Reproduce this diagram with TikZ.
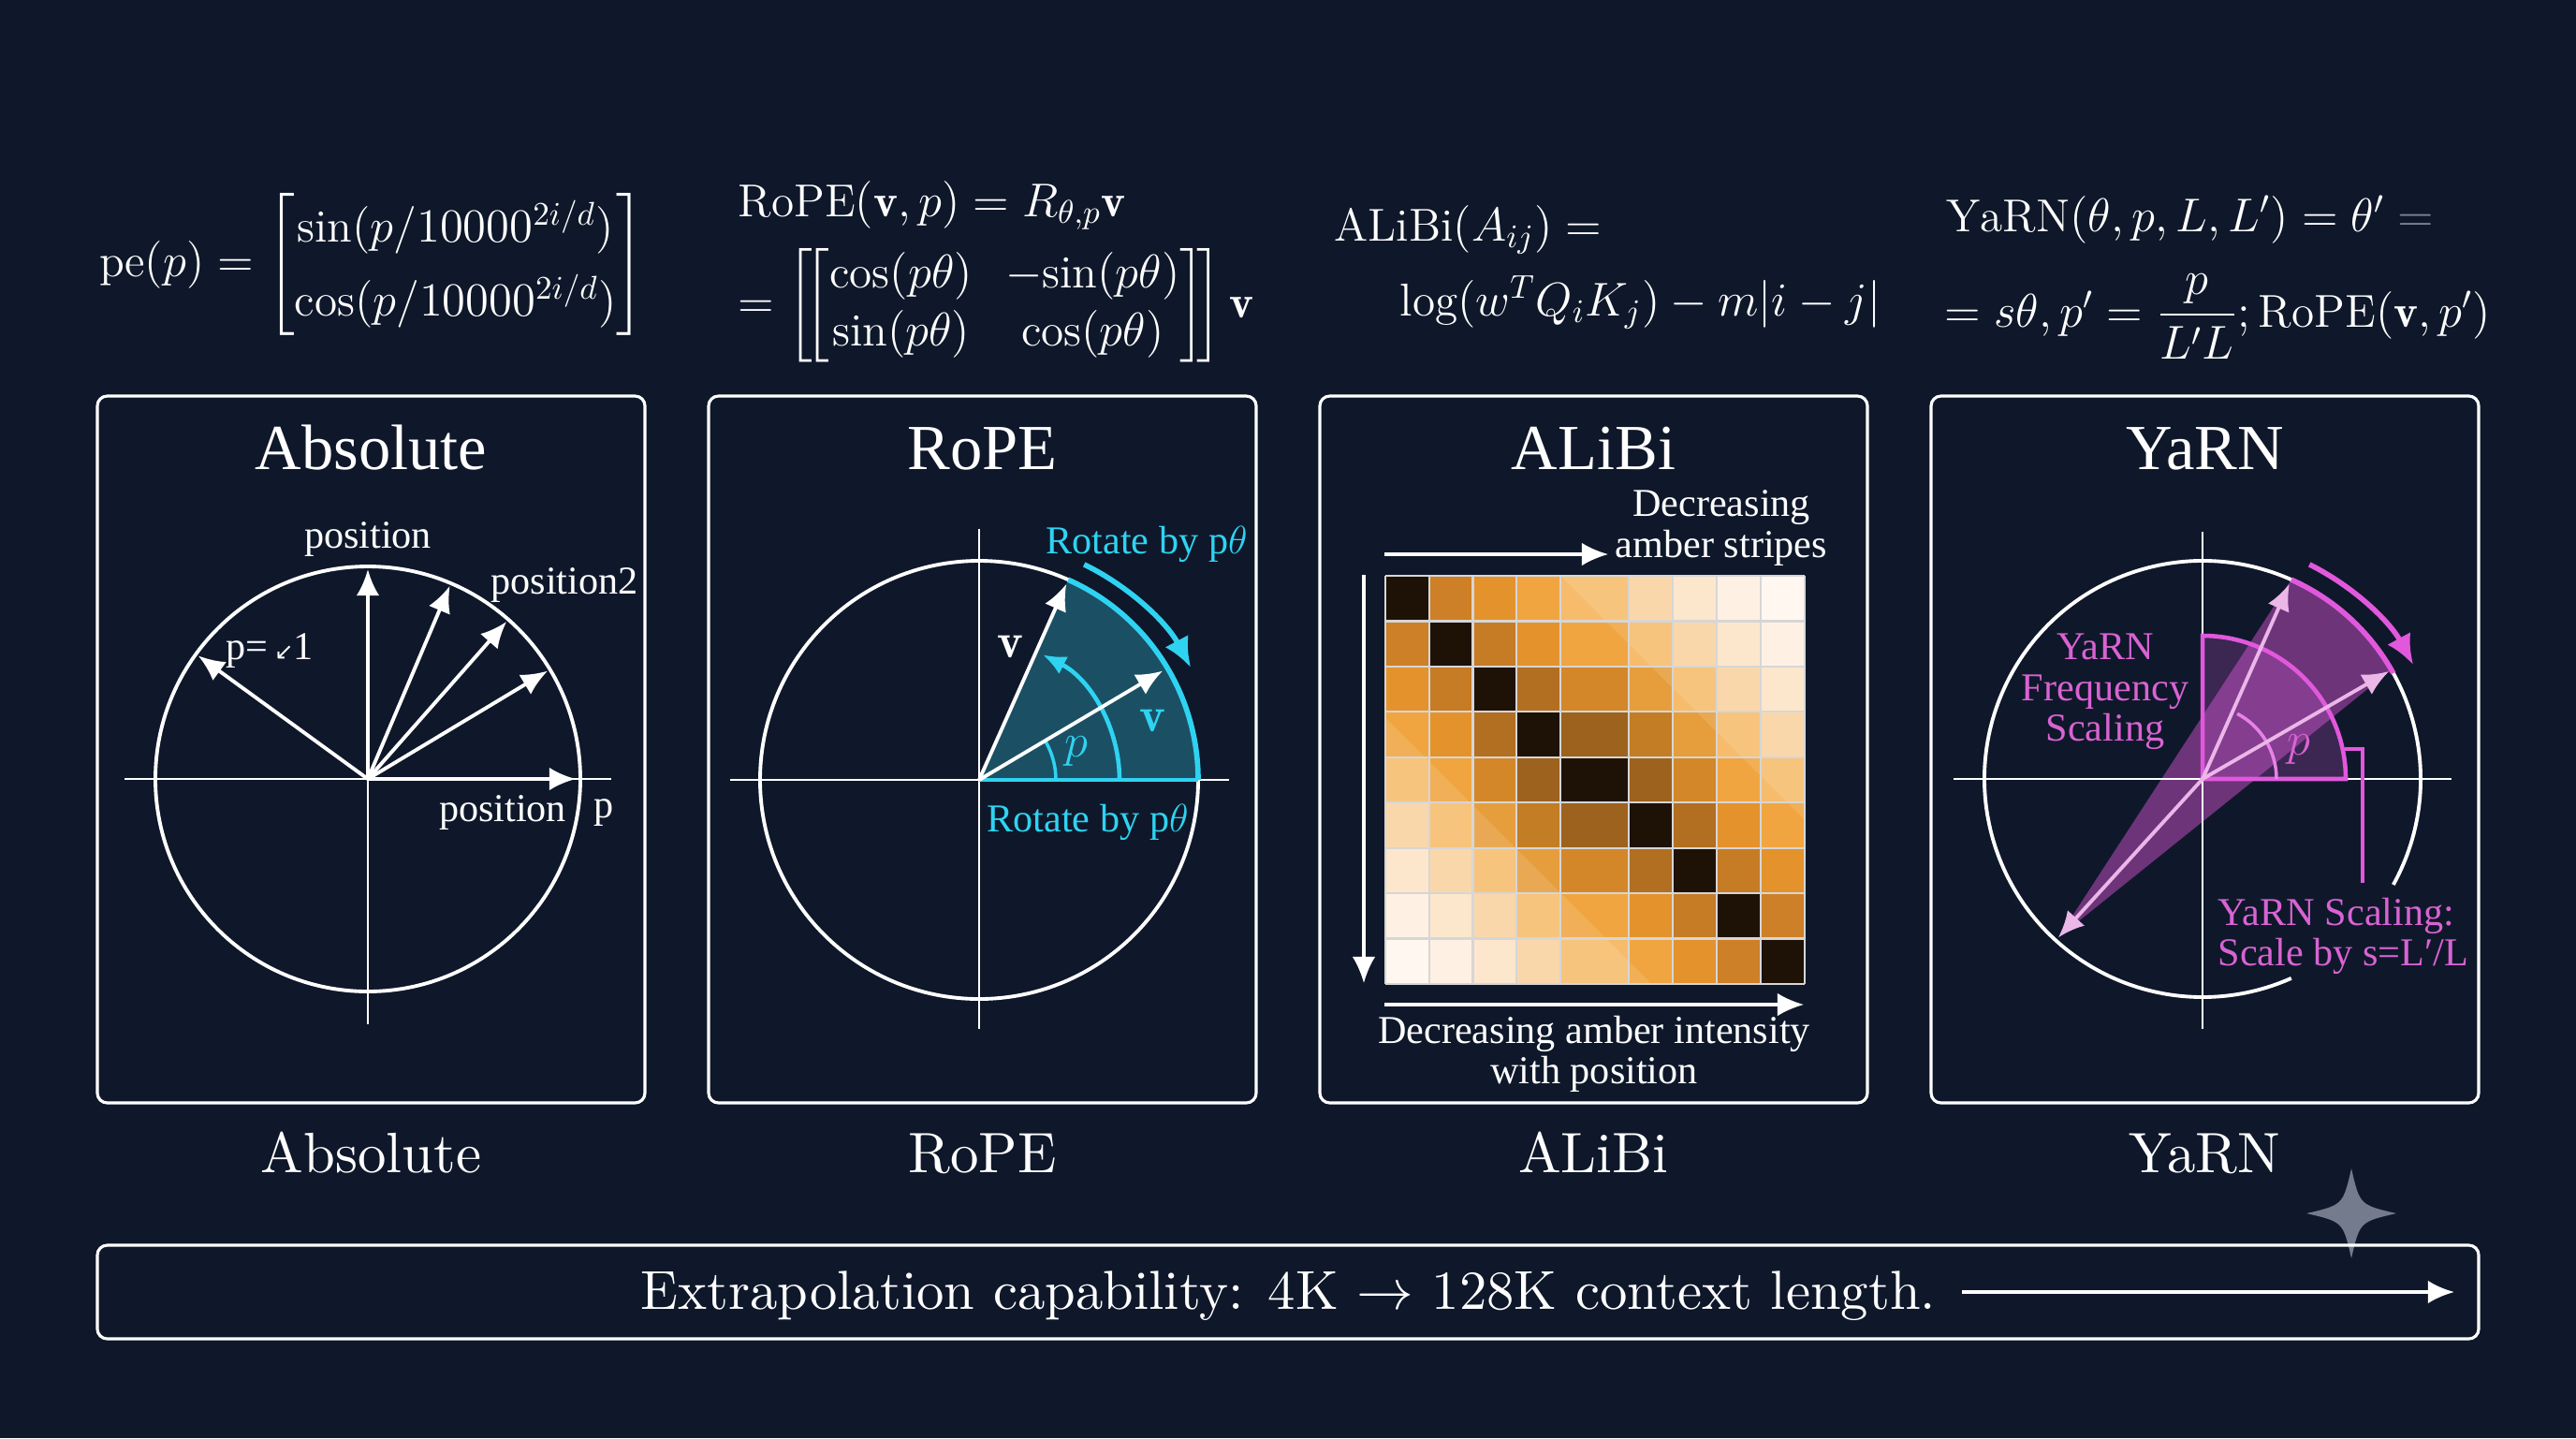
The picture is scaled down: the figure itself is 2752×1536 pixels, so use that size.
\documentclass[tikz,border=0pt]{standalone}
\usepackage{amsmath}
\usepackage{fontspec}
\newfontfamily\tnr{Liberation Serif}
\newfontfamily\dvs{DejaVu Sans}
\newfontfamily\lmten{lmroman10-regular.otf}
\usetikzlibrary{arrows.meta}

\definecolor{bgnavy}{HTML}{0F182A}
\definecolor{ropecyan}{HTML}{2FD3F2}
\definecolor{ropefill}{HTML}{1B5064}
\definecolor{yarnpink}{HTML}{E158DD}
\definecolor{yarnlight}{HTML}{EBB6E8}
\definecolor{yarntext}{HTML}{D963D3}
\definecolor{yarnsector}{HTML}{3B2752}
\definecolor{gridgray}{HTML}{D6D6D6}
\definecolor{starcol}{HTML}{737B8C}
\definecolor{eqgray}{HTML}{7D8494}
\definecolor{amb0}{HTML}{1E1206}
\definecolor{amb1}{HTML}{CD8027}
\definecolor{amb2}{HTML}{E4922C}
\definecolor{amb3}{HTML}{F0A540}
\definecolor{amb4}{HTML}{F6BC6C}
\definecolor{amb5}{HTML}{FAD2A0}
\definecolor{amb6}{HTML}{FCE4C6}
\definecolor{amb7}{HTML}{FEF0E0}
\definecolor{amb8}{HTML}{FFF6EE}

\tikzset{
  panel/.style={draw=white, line width=0.9pt, rounded corners=3pt},
  ring/.style={draw=white, line width=1.1pt},
  axisline/.style={draw=white, line width=0.7pt},
  vec/.style={draw=white, line width=1.1pt, -{Latex[length=8pt,width=7pt]}},
  lbl/.style={text=white, font=\tnr\fontsize{12}{12.4}\selectfont, inner sep=0pt, align=center},
  ptitle/.style={text=white, font=\tnr\fontsize{19.5}{22}\selectfont, inner sep=0pt, anchor=base},
  blabel/.style={text=white, font=\lmten\fontsize{17.3}{20}\selectfont, inner sep=0pt, anchor=base},
  formula/.style={text=white, font=\fontsize{14}{16}\selectfont, inner sep=0pt, anchor=base west},
  cyanline/.style={draw=ropecyan, line width=1.3pt},
  pinkline/.style={draw=yarnpink, line width=1.3pt},
  gridline/.style={draw=gridgray, line width=0.6pt},
}

\begin{document}
\begin{tikzpicture}[x=0.01cm,y=0.01cm]
\useasboundingbox (0,0) rectangle (2752,-1536);
\fill[bgnavy] (0,0) rectangle (2752,-1536);

% formulas
\node[formula] (fpe) at (106,-295)
  {$\mathrm{pe}(p)=\renewcommand{\arraystretch}{1.4}\begin{bmatrix}\sin(p/10000^{2i/d})\\ \cos(p/10000^{2i/d})\end{bmatrix}$};
\node[formula] (frope1) at (788,-231) {$\mathrm{RoPE}(\mathbf{v},p)=R_{\theta,p}\mathbf{v}$};
\node[formula] (frope2) at (788,-339)
  {$=\left[\!\left[\renewcommand{\arraystretch}{1.1}\begin{matrix}\cos(p\theta) & \mathord{-}\!\sin(p\theta)\\ \sin(p\theta) & \cos(p\theta)\end{matrix}\right]\!\right]\mathbf{v}$};
\node[formula] (falibi1) at (1425,-257) {$\mathrm{ALiBi}(A_{ij})=$};
\node[formula] (falibi2) at (1495,-337) {$\log(w^TQ_iK_j)-m|i-j|$};
\node[formula] (fyarn1) at (2079,-247) {$\mathrm{YaRN}(\theta,p,L,L')=\theta'\mathrel{\textcolor{eqgray}{=}}$};
\node[formula] (fyarn2) at (2077,-349) {$=s\theta,p'=\dfrac{p}{L'L};\mathrm{RoPE}(\mathbf{v},p')$};

% panel frames
\foreach \px in {104,757,1410,2063}
  \draw[panel] (\px,-423) rectangle ++(585,-755);

\node[ptitle] (tabs) at (396.5,-501) {Absolute};
\node[ptitle] (trope) at (1049.5,-501) {RoPE};
\node[ptitle] (talibi) at (1702.5,-501) {ALiBi};
\node[ptitle] (tyarn) at (2355.5,-501) {YaRN};

% absolute panel
\coordinate (ac) at (393,-832);
\draw[axisline] (133,-832) -- (653,-832);
\draw[axisline] (393,-832) -- (393,-1094);
\draw[ring] (ac) circle (227);
\foreach \a in {31,48.6,67,90,144}
  \draw[vec] (ac) -- ++(\a:224);
\draw[vec] (ac) -- ++(0:222);
\node[lbl] (apos) at (393,-576) {position};
\node[lbl] (apos2) at (603,-625) {position2};
\node[lbl] (aneg) at (288,-695) {p=\,{\dvs\fontsize{7}{7}\selectfont ↙}1};
\node[lbl] (apos0) at (537,-868) {position};
\node[lbl] (ap) at (645,-868) {p};

% rope panel
\coordinate (rc) at (1046,-833);
\fill[ropefill] (rc) -- ++(0:234) arc (0:66:234) -- cycle;
\draw[axisline] (780,-833) -- (1313,-833);
\draw[axisline] (1046,-565) -- (1046,-1099);
\draw[ring] (rc) circle (234);
\draw[cyanline] (rc) -- ++(0:234);
\draw[cyanline, line width=1.6pt] (rc) ++(0:234) arc (0:66:234);
\draw[cyanline, line width=1pt] (rc) ++(0:82) arc (0:30:82);
\draw[cyanline, -{Latex[length=7pt,width=6pt]}] (rc) ++(0:150) arc (0:63:150);
\draw[cyanline, line width=1.6pt, -{Latex[length=9pt,width=8pt]}] (rc) ++(64:256) arc (64:28:256);
\draw[vec] (rc) -- ++(66:229);
\draw[vec] (rc) -- ++(30.7:228);
\node[lbl, text=ropecyan] (rrot1) at (1225,-581) {Rotate by p$\theta$};
\node[lbl, text=ropecyan] (rrot2) at (1162,-878) {Rotate by p$\theta$};
\node[text=white, inner sep=0pt, font=\fontsize{15}{15}\selectfont] (rv1) at (1079,-691) {$\mathbf{v}$};
\node[text=ropecyan, inner sep=0pt, font=\fontsize{15}{15}\selectfont] (rv2) at (1231,-770) {$\mathbf{v}$};
\node[text=ropecyan, inner sep=0pt, font=\fontsize{15}{15}\selectfont] (rp) at (1150,-803) {$p$};

% alibi panel
\foreach \i in {0,...,8}{
  \foreach \j in {0,...,8}{
    \pgfmathtruncatemacro\d{abs(\i-\j)}
    \pgfmathtruncatemacro\c{abs(\i+\j-8)}
    \pgfmathsetmacro\xl{\j<5 ? 1480+46.75*\j : 1740+47*(\j-5)}
    \pgfmathsetmacro\xr{\j<4 ? 1480+46.75*(\j+1) : 1740+47*(\j-4)}
    \pgfmathsetmacro\yt{-615-48.44*\i}
    \pgfmathsetmacro\yb{-615-48.44*(\i+1)}
    \pgfmathsetmacro\dk{(\d==1)*max(0,0.28-0.05*\c)+(\d==2)*max(0,0.14-0.035*\c)+(\d==3)*max(0,0.06-0.02*\c)}
    \fill[amb\d] (\xl,\yt) rectangle (\xr,\yb);
    \fill[black, opacity=\dk] (\xl,\yt) rectangle (\xr,\yb);
  }
}
\fill[white, opacity=.12] (1480,-767) -- (1480,-1051) -- (1764,-1051) -- cycle;
\fill[white, opacity=.12] (1667,-615) -- (1928,-615) -- (1928,-876) -- cycle;
\foreach \k in {0,...,9}
  \draw[gridline] (1480,{-615-48.44*\k}) -- (1928,{-615-48.44*\k});
\foreach \xx in {1480,1526.75,1573.5,1620.25,1667,1740,1787,1834,1881,1928}
  \draw[gridline] (\xx,-615) -- (\xx,-1051);
\draw[vec, line width=0.9pt] (1479,-592) -- (1718,-592);
\draw[vec, line width=0.9pt] (1457,-614) -- (1457,-1050);
\draw[vec, line width=0.9pt] (1479,-1073) -- (1927,-1073);
\node[lbl] (astripe) at (1839,-564) {Decreasing\\amber stripes};
\node[lbl] (aintens) at (1703,-1126) {Decreasing amber intensity\\with position};

% yarn panel
\coordinate (yc) at (2353,-832);
\path (yc) ++(227.7:229) coordinate (yll);
\path (yc) ++(66:233) coordinate (yup);
\fill[yarnsector] (yc) -- ++(0:153) arc (0:90:153) -- cycle;
\fill[yarnpink, opacity=.45] (yll) -- (yup) arc (66:30:233) -- cycle;
\draw[axisline] (2087,-832) -- (2619,-832);
\draw[axisline] (2353,-568) -- (2353,-1099);
\draw[ring] (yc) ++(-29:233) arc (-29:294:233);
\draw[pinkline] (yc) -- ++(0:153) arc (0:90:153) -- cycle;
\draw[pinkline, draw=yarnpink!75!white, line width=1pt] (yc) ++(0:79) arc (0:62:79);
\draw[pinkline, line width=1pt] (2505,-800) -- (2524,-800) -- (2524,-943);
\draw[pinkline, line width=1.6pt] (yc) ++(66:233) arc (66:29:233);
\draw[pinkline, line width=1.6pt, -{Latex[length=9pt,width=8pt]}] (yc) ++(63.5:256) arc (63.5:28.5:256);
\draw[vec, draw=yarnlight] (yc) -- ++(66:228);
\draw[vec, draw=yarnlight] (yc) -- ++(30:230);
\draw[vec, draw=yarnlight] (yc) -- (yll);
\node[lbl, text=yarntext] (yfreq) at (2249,-739) {YaRN\\Frequency\\Scaling};
\node[lbl, text=yarntext, align=left, anchor=west] (yscale) at (2369,-1000) {YaRN Scaling:\\Scale by s=L′/L};
\node[text=yarntext, inner sep=0pt, font=\fontsize{15}{15}\selectfont] (yp) at (2456,-801) {$p$};

% bottom labels
\node[blabel] (babs) at (396.5,-1252) {Absolute};
\node[blabel] (brope) at (1049.5,-1252) {RoPE};
\node[blabel] (balibi) at (1702.5,-1252) {ALiBi};
\node[blabel] (byarn) at (2355.5,-1252) {YaRN};

% sparkle
\fill[starcol] (2512,-1248) .. controls (2521,-1287) .. (2560,-1296)
  .. controls (2521,-1305) .. (2512,-1344)
  .. controls (2503,-1305) .. (2464,-1296)
  .. controls (2503,-1287) .. (2512,-1248) -- cycle;

% extrapolation bar
\draw[panel] (104,-1330) rectangle (2648,-1430);
\node[anchor=base west, text=white, inner sep=0pt, font=\lmten\fontsize{16.7}{20}\selectfont] (bartxt) at (684,-1398)
  {Extrapolation capability: 4K $\rightarrow$ 128K context length.};
\coordinate (barend) at (2622,-1380);
\draw[vec] ([xshift=0.27cm]bartxt.east |- barend) -- (barend);
\end{tikzpicture}
\end{document}
